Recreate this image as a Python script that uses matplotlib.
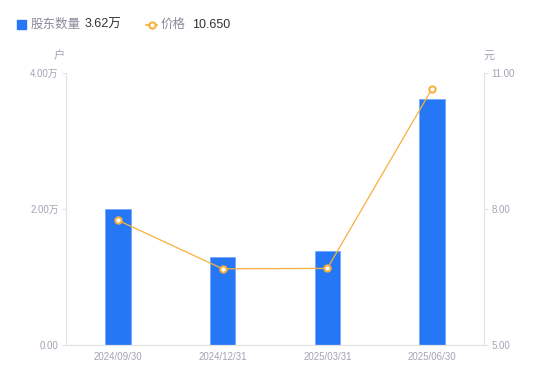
import matplotlib
matplotlib.use("Agg")
import matplotlib.pyplot as plt
import numpy as np

plt.rcParams['font.family'] = ['Liberation Sans', 'Noto Sans CJK SC', 'DejaVu Sans']

categories = ["2024/09/30", "2024/12/31", "2025/03/31", "2025/06/30"]
holders = [2.00, 1.30, 1.38, 3.62]          # 万户
price = [7.75, 6.68, 6.69, 10.65]           # 元
left_ticks = [0, 2, 4]
left_labels = ["0.00", "2.00万", "4.00万"]
right_ticks = [5, 8, 11]
right_labels = ["5.00", "8.00", "11.00"]

BAR = '#2577f5'
LINE = '#f7b13c'
TICK = '#a3a3b5'
AXIS = '#e3e3e8'

fig = plt.figure(figsize=(5.5, 3.81), dpi=100)
ax = fig.add_axes([65.7/550, 1-345/381, 418.6/550, 272/381])
x = np.arange(len(categories))
ax.bar(x, holders, width=0.24, color=BAR, edgecolor='#6fa3f7', linewidth=0.5, zorder=2)
ax.set_xlim(-0.5, len(categories)-0.5)
ax.set_ylim(0, 4)
ax.set_yticks(left_ticks)
ax.set_yticklabels(left_labels)
ax.set_xticks(x)
ax.set_xticklabels(categories)
ax.tick_params(axis='x', length=0, pad=5, labelsize=7, labelcolor=TICK)
ax.tick_params(axis='y', length=3, width=0.8, color=AXIS, pad=2, labelsize=7, labelcolor=TICK)
for s in ['top', 'right']:
    ax.spines[s].set_visible(False)
for s in ['left', 'bottom']:
    ax.spines[s].set_color(AXIS)
    ax.spines[s].set_linewidth(0.9)

ax2 = ax.twinx()
ax2.plot(x, price, color=LINE, linewidth=0.9, marker='o', markersize=4.5,
         markerfacecolor='white', markeredgecolor=LINE, markeredgewidth=1.5, zorder=3)
ax2.set_ylim(5, 11)
ax2.set_yticks(right_ticks)
ax2.set_yticklabels(right_labels)
ax2.tick_params(axis='y', length=3, width=0.8, color=AXIS, pad=2, labelsize=7, labelcolor=TICK)
for s in ['top', 'left', 'bottom']:
    ax2.spines[s].set_visible(False)
ax2.spines['right'].set_color(AXIS)
ax2.spines['right'].set_linewidth(0.9)

# unit labels
fig.text(59/550, 1-56/381, "户", fontsize=8, color=TICK, ha='center', va='center')
fig.text(489/550, 1-56/381, "元", fontsize=8, color=TICK, ha='center', va='center')

# legend
ly = 1-24.5/381
fig.patches.append(plt.Rectangle((17/550, 1-29/381), 8.5/550, 8.5/381, transform=fig.transFigure,
                                 color=BAR, figure=fig))
fig.text(31/550, ly, "股东数量", fontsize=9, color='#8a8a9a', ha='left', va='center')
fig.text(85/550, ly, "3.62万", fontsize=9, color='#333333', ha='left', va='center')
fig.lines.append(plt.Line2D([146/550, 157/550], [ly, ly], transform=fig.transFigure, color=LINE,
                            linewidth=1.2))
fig.lines.append(plt.Line2D([151.5/550], [ly], transform=fig.transFigure, color=LINE, marker='o',
                            markersize=4.5, markerfacecolor='white', markeredgewidth=1.5, linestyle='none'))
fig.text(161/550, ly, "价格", fontsize=9, color='#8a8a9a', ha='left', va='center')
fig.text(192/550, ly, "10.650", fontsize=9, color='#333333', ha='left', va='center')

fig.savefig("out.png", dpi=100)
